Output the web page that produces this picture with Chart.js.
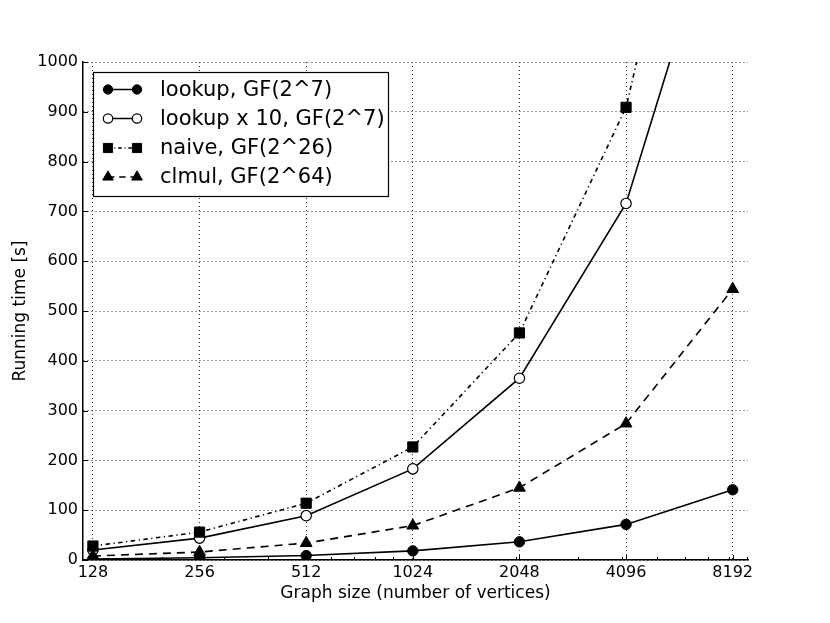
<!DOCTYPE html>
<html><head><meta charset="utf-8">
<script src="https://cdn.jsdelivr.net/npm/chart.js@4"></script>
<style>html,body{margin:0;padding:0;background:#fff}#wrap{width:830px;height:623px}</style>
</head><body><div id="wrap"><canvas id="c" width="830" height="623"></canvas></div>
<script>
const graphSizes = [128, 256, 512, 1024, 2048, 4096, 8192];
const lookup     = [2, 4.4, 8.9, 18.3, 36.5, 71.5, 141];
const lookupX10  = [20, 44, 89, 183, 365, 716, 1410];
const naive      = [28, 56, 114, 227, 456, 909, 1820];
const clmul      = [8, 16, 34, 69, 145, 274, 544];
const xMajorTicks = [128, 256, 512, 1024, 2048, 4096, 8192];
const xMinorTicks = [200, 300, 400, 500, 600, 700, 800, 900, 2000, 3000, 4000, 5000, 6000, 7000, 8000, 9000];
const yTickValues = [0, 100, 200, 300, 400, 500, 600, 700, 800, 900, 1000];
const seriesLabels = ['lookup, GF(2^7)', 'lookup x 10, GF(2^7)', 'naive, GF(2^26)', 'clmul, GF(2^64)'];

const FONT = 'DejaVu Sans';
const toPts = arr => graphSizes.map((x, i) => ({x: x, y: arr[i]}));

const styles = [
  {pointStyle: 'circle', radius: 5.2, fill: '#000', dash: [], bw: 1},
  {pointStyle: 'circle', radius: 5.2, fill: '#fff', dash: [], bw: 1.2},
  {pointStyle: 'rect', radius: 7.2, fill: '#000', dash: [4.5, 3.5, 1.2, 3.5], bw: 1},
  {pointStyle: 'triangle', radius: 6.8, fill: '#000', dash: [8, 6], bw: 1}
];
const seriesData = [lookup, lookupX10, naive, clmul];

const datasets = seriesData.map((arr, i) => ({
  label: seriesLabels[i],
  data: toPts(arr),
  borderColor: '#000',
  backgroundColor: styles[i].fill,
  borderWidth: 1.6,
  borderDash: styles[i].dash,
  pointStyle: styles[i].pointStyle,
  pointRadius: styles[i].radius,
  pointHoverRadius: styles[i].radius,
  pointBackgroundColor: styles[i].fill,
  pointBorderColor: '#000',
  pointBorderWidth: styles[i].bw,
  tension: 0,
  fill: false,
  order: 4 - i
}));

function drawMarker(ctx, st, x, y) {
  ctx.save();
  ctx.setLineDash([]);
  ctx.fillStyle = st.fill;
  ctx.strokeStyle = '#000';
  ctx.lineWidth = st.bw;
  ctx.beginPath();
  if (st.pointStyle === 'circle') {
    ctx.arc(x, y, st.radius, 0, Math.PI * 2);
  } else if (st.pointStyle === 'rect') {
    const s = st.radius * Math.SQRT1_2;
    ctx.rect(x - s, y - s, 2 * s, 2 * s);
  } else {
    const r = st.radius;
    ctx.moveTo(x, y - r);
    ctx.lineTo(x + r * Math.sin(2 * Math.PI / 3), y + r * 0.5);
    ctx.lineTo(x - r * Math.sin(2 * Math.PI / 3), y + r * 0.5);
    ctx.closePath();
  }
  ctx.fill();
  ctx.stroke();
  ctx.restore();
}

const decorPlugin = {
  id: 'decor',
  afterDraw(chart) {
    const ctx = chart.ctx;
    const xs = chart.scales.x, ys = chart.scales.y;
    const ca = chart.chartArea;
    ctx.save();
    ctx.strokeStyle = '#000';
    ctx.lineWidth = 1;
    ctx.setLineDash([]);
    // inward ticks
    xMajorTicks.forEach(v => {
      const px = Math.round(xs.getPixelForValue(v)) + 0.5;
      ctx.beginPath(); ctx.moveTo(px, ca.bottom); ctx.lineTo(px, ca.bottom - 5); ctx.stroke();
    });
    xMinorTicks.forEach(v => {
      const px = Math.round(xs.getPixelForValue(v)) + 0.5;
      ctx.beginPath(); ctx.moveTo(px, ca.bottom); ctx.lineTo(px, ca.bottom - 3); ctx.stroke();
    });
    yTickValues.forEach(v => {
      const py = Math.round(ys.getPixelForValue(v)) + 0.5;
      ctx.beginPath(); ctx.moveTo(ca.left, py); ctx.lineTo(ca.left + 5, py); ctx.stroke();
    });
    // legend
    const bx = 93.5, by = 72.5, bw = 295, bh = 124;
    ctx.fillStyle = '#fff';
    ctx.fillRect(bx, by, bw, bh);
    ctx.lineWidth = 1.2;
    ctx.strokeRect(bx, by, bw, bh);
    const rowY = [89.5, 118.5, 148, 177];
    ctx.font = '21px "' + FONT + '"';
    ctx.textBaseline = 'middle';
    ctx.textAlign = 'left';
    seriesLabels.forEach((lab, i) => {
      const y = rowY[i];
      ctx.save();
      ctx.lineWidth = 1.5;
      ctx.setLineDash(styles[i].dash.length ? styles[i].dash.map(d => d * 0.8) : []);
      ctx.beginPath(); ctx.moveTo(108, y); ctx.lineTo(137, y); ctx.stroke();
      ctx.restore();
      const st = Object.assign({}, styles[i], {radius: styles[i].radius * 0.9});
      drawMarker(ctx, st, 108, y);
      drawMarker(ctx, st, 137, y);
      ctx.fillStyle = '#000';
      ctx.fillText(lab, 160, y + 1);
    });
    ctx.restore();
  }
};

new Chart(document.getElementById('c'), {
  type: 'line',
  data: {datasets: datasets},
  plugins: [decorPlugin],
  options: {
    responsive: false,
    animation: false,
    devicePixelRatio: 1,
    layout: {padding: {left: 0, right: 82, top: 62, bottom: 0}},
    plugins: {legend: {display: false}, tooltip: {enabled: false}},
    scales: {
      x: {
        type: 'logarithmic',
        min: 120,
        max: 9050,
        afterBuildTicks: s => {
          s.ticks = xMajorTicks.map(v => ({value: v, major: true}));
        },
        afterFit: s => { s.height = 63; },
        ticks: {
          autoSkip: false, maxRotation: 0, minRotation: 0,
          callback: v => String(v),
          font: {family: FONT, size: 16},
          color: '#000',
          padding: 3
        },
        grid: {color: '#000', lineWidth: 0.8, drawTicks: false, tickLength: 0, borderDash: [1, 3]},
        border: {display: true, color: '#000', width: 1.5, dash: [1, 3]},
        title: {display: true, text: 'Graph size (number of vertices)', color: '#000',
                font: {family: FONT, size: 17}, padding: {top: 0, bottom: 19}}
      },
      y: {
        min: 0,
        max: 1000,
        afterBuildTicks: s => { s.ticks = yTickValues.map(v => ({value: v})); },
        afterFit: s => { s.width = 83; },
        ticks: {
          callback: v => String(v),
          font: {family: FONT, size: 16},
          color: '#000',
          padding: 5
        },
        grid: {color: '#000', lineWidth: 0.8, drawTicks: false, tickLength: 0, borderDash: [1, 3]},
        border: {display: true, color: '#000', width: 1.5, dash: [1, 3]},
        title: {display: true, text: 'Running time [s]', color: '#000',
                font: {family: FONT, size: 17}, padding: {top: 10, bottom: 0}}
      }
    }
  }
});
</script></body></html>
